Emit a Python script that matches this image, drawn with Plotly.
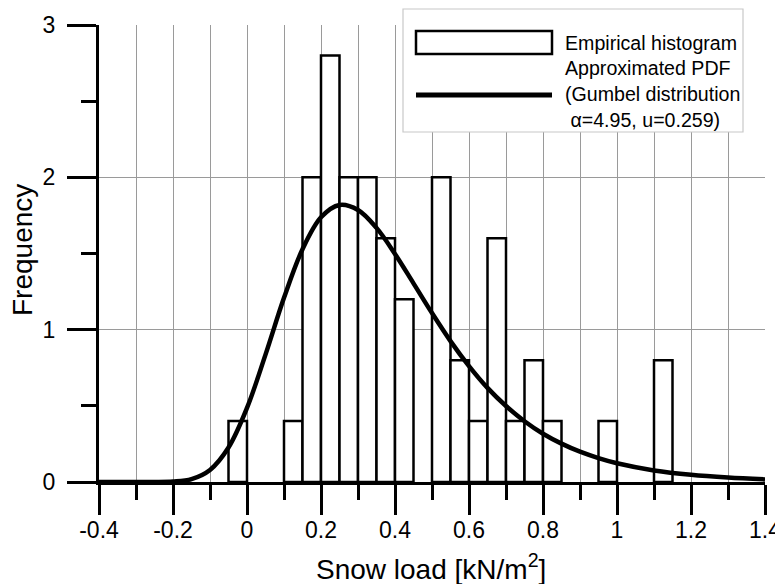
import plotly.graph_objects as go

# ---- data ----
bin_left = [-0.05, 0.10, 0.15, 0.20, 0.25, 0.30, 0.35, 0.40, 0.50, 0.55,
            0.60, 0.65, 0.70, 0.75, 0.80, 0.95, 1.10]
bin_freq = [0.4, 0.4, 2.0, 2.8, 2.0, 2.0, 1.6, 1.2, 2.0, 0.8,
            0.4, 1.6, 0.4, 0.8, 0.4, 0.4, 0.8]
bin_width = 0.05

pdf_x = [-0.4, -0.3, -0.25, -0.2, -0.15, -0.1, -0.05, 0.0, 0.05, 0.1, 0.15,
         0.2, 0.25, 0.3, 0.35, 0.4, 0.45, 0.5, 0.55, 0.6, 0.65, 0.7, 0.75,
         0.8, 0.85, 0.9, 0.95, 1.0, 1.1, 1.2, 1.3, 1.4]
pdf_y = [0.0, 0.0, 0.0, 0.003, 0.019, 0.079, 0.226, 0.486, 0.836, 1.209, 1.528,
         1.738, 1.819, 1.786, 1.668, 1.497, 1.304, 1.109, 0.925, 0.761, 0.618,
         0.499, 0.399, 0.317, 0.252, 0.199, 0.157, 0.123, 0.076, 0.047, 0.029, 0.017]

x_tick_vals = [-0.4, -0.2, 0, 0.2, 0.4, 0.6, 0.8, 1.0, 1.2, 1.4]
x_tick_text = ["-0.4", "-0.2", "0", "0.2", "0.4", "0.6", "0.8", "1", "1.2", "1.4"]
y_tick_vals = [0, 1, 2, 3]
y_tick_text = ["0", "1", "2", "3"]

x_title = "Snow load [kN/m<sup>2</sup>]"
y_title = "Frequency"
legend_hist = "Empirical histogram"
legend_pdf = ["Approximated PDF", "(Gumbel distribution", " \u03b1=4.95, u=0.259)"]

FONT = "Arial, Liberation Sans, sans-serif"
OFF = 8  # page body margin of the html page
W, H = 783 - OFF, 584 - OFF
# plot area in reference pixels: x 99..765, y 25..482
ML, MR, MT, MB = 99 - OFF, 783 - 765, 25 - OFF, 584 - 482
PW, PH = W - ML - MR, H - MT - MB


def px(xp):
    return (xp - OFF - ML) / PW


def py(yp):
    return (H - MB - (yp - OFF)) / PH


fig = go.Figure()
fig.add_trace(go.Bar(
    x=bin_left, y=bin_freq, width=bin_width, offset=0,
    marker=dict(color="white", line=dict(color="black", width=2.5)),
    showlegend=False,
))
fig.add_trace(go.Scatter(
    x=pdf_x, y=pdf_y, mode="lines",
    line=dict(color="black", width=4.5, shape="spline"),
    showlegend=False,
))

tick_common = dict(ticks="outside", tickcolor="black", tickwidth=2.5)

fig.update_layout(
    width=W, height=H,
    margin=dict(l=ML, r=MR, t=MT, b=MB, autoexpand=False),
    paper_bgcolor="white", plot_bgcolor="white",
    font=dict(family=FONT, color="black"),
    showlegend=False,
    xaxis=dict(
        range=[-0.4, 1.4], tickvals=x_tick_vals, ticktext=x_tick_text,
        ticklen=30, **tick_common,
        tickfont=dict(size=23, family=FONT),
        ticklabelstandoff=-5,
        showgrid=True, gridcolor="#9a9a9a", gridwidth=1,
        minor=dict(dtick=0.1, tick0=0, ticks="outside", ticklen=15,
                   tickwidth=2.5, tickcolor="black",
                   showgrid=True, gridcolor="#9a9a9a", gridwidth=1),
        showline=True, linecolor="black", linewidth=3,
        zeroline=False, automargin=False,
    ),
    yaxis=dict(
        range=[0, 3], tickvals=y_tick_vals, ticktext=y_tick_text,
        ticklen=29, **tick_common,
        tickfont=dict(size=23, family=FONT),
        ticklabelstandoff=7,
        showgrid=True, gridcolor="#9a9a9a", gridwidth=1,
        minor=dict(dtick=0.5, tick0=0, ticks="outside", ticklen=15,
                   tickwidth=2.5, tickcolor="black", showgrid=False),
        showline=True, linecolor="black", linewidth=3,
        zeroline=False, automargin=False,
    ),
)

# custom legend box
shapes = [
    dict(type="rect", xref="paper", yref="paper",
         x0=px(403), x1=px(743), y0=py(132), y1=py(9),
         fillcolor="white", line=dict(color="#c8c8c8", width=1.2), layer="above"),
    dict(type="rect", xref="paper", yref="paper",
         x0=px(416), x1=px(552), y0=py(54), y1=py(31),
         fillcolor="white", line=dict(color="black", width=2.5), layer="above"),
    dict(type="line", xref="paper", yref="paper",
         x0=px(416), x1=px(552), y0=py(95), y1=py(95),
         line=dict(color="black", width=5), layer="above"),
]
fig.update_layout(shapes=shapes)

ann = []
for txt, yc in zip([legend_hist] + legend_pdf, [43, 68, 94, 120]):
    ann.append(dict(text=txt, xref="paper", yref="paper", x=px(563), y=py(yc),
                    xanchor="left", yanchor="middle", showarrow=False,
                    font=dict(size=19.6, family=FONT, color="black")))
# axis titles
ann.append(dict(text=x_title, xref="paper", yref="paper", x=px(431), y=py(567),
                xanchor="center", yanchor="middle", showarrow=False,
                font=dict(size=28, family=FONT, color="black")))
ann.append(dict(text=y_title, xref="paper", yref="paper", x=px(22), y=py(250),
                xanchor="center", yanchor="middle", showarrow=False, textangle=-90,
                font=dict(size=28, family=FONT, color="black")))
fig.update_layout(annotations=ann)

fig.write_html("out.html")
